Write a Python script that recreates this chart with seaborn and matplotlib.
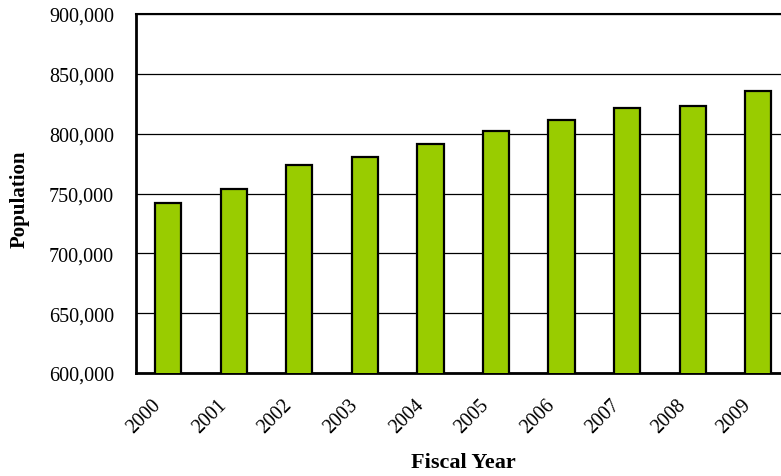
import matplotlib
matplotlib.use("Agg")
import matplotlib.pyplot as plt
from matplotlib.ticker import FuncFormatter, FixedLocator
from matplotlib.transforms import ScaledTranslation
import pandas as pd
import seaborn as sns

# Fiscal-year population totals
years = ["2000", "2001", "2002", "2003", "2004", "2005", "2006", "2007", "2008", "2009"]
population = [742000, 753500, 773600, 780200, 791400, 802500, 811400, 821700, 822800, 835900]
y_ticks = [600000, 650000, 700000, 750000, 800000, 850000, 900000]

df = pd.DataFrame({"Fiscal Year": years, "Population": population})

sns.set_style("white")
plt.rcParams["font.family"] = ["Liberation Serif", "DejaVu Serif"]
plt.rcParams["text.color"] = "black"
plt.rcParams["xtick.color"] = "black"
plt.rcParams["ytick.color"] = "black"
plt.rcParams["axes.labelcolor"] = "black"

W, H = 781, 477
fig = plt.figure(figsize=(W / 100, H / 100), dpi=100)
left, right, top, bottom = 135.5, 791.0, 15.0, 374.0
ax = fig.add_axes([left / W, (H - bottom) / H, (right - left) / W, (bottom - top) / H])

sns.barplot(data=df, x="Fiscal Year", y="Population", ax=ax, color="#99CC00",
            saturation=1, width=0.4, edgecolor="black", linewidth=1.6, zorder=3)

ax.set_ylim(y_ticks[0], y_ticks[-1])
ax.set_xlim(-0.5, len(years) - 0.5)
ax.yaxis.set_major_locator(FixedLocator(y_ticks))
ax.yaxis.set_major_formatter(FuncFormatter(lambda v, p: f"{int(v):,}"))
ax.yaxis.grid(True, color="black", linewidth=0.9, zorder=0)
ax.set_axisbelow(True)

# category boundary ticks on x, labels under bar centres
ax.set_xticks(range(len(years)))
ax.set_xticklabels(years, rotation=45, ha="right", va="center", rotation_mode="anchor")
ax.set_xticks([i - 0.5 for i in range(len(years) + 1)], minor=True)
ax.tick_params(axis="x", which="major", length=0, pad=21, labelsize=14.3)
ax.tick_params(axis="x", which="minor", length=6, width=1, color="#333333", direction="out")
ax.tick_params(axis="y", which="major", length=6, width=1, color="#333333",
               direction="out", labelsize=14.5, pad=9.5)
shift = ScaledTranslation(-0.10, 0, fig.dpi_scale_trans)
for lbl in ax.get_xticklabels():
    lbl.set_transform(lbl.get_transform() + shift)

for side in ["left", "bottom"]:
    ax.spines[side].set_linewidth(2)
    ax.spines[side].set_color("black")
ax.spines["top"].set_linewidth(1.5)
ax.spines["top"].set_color("black")
ax.spines["right"].set_visible(False)

ax.set_xlabel("Fiscal Year", fontsize=16, fontweight="bold")
ax.set_ylabel("Population", fontsize=15, fontweight="bold")
ax.xaxis.set_label_coords(0.5, (bottom - 462.7) / (bottom - top))
ax.xaxis.label.set_va("center")
ax.yaxis.set_label_coords((20 - left) / (right - left), (bottom - 199.2) / (bottom - top))
ax.yaxis.label.set_va("center")

fig.savefig("out.png", dpi=100)
